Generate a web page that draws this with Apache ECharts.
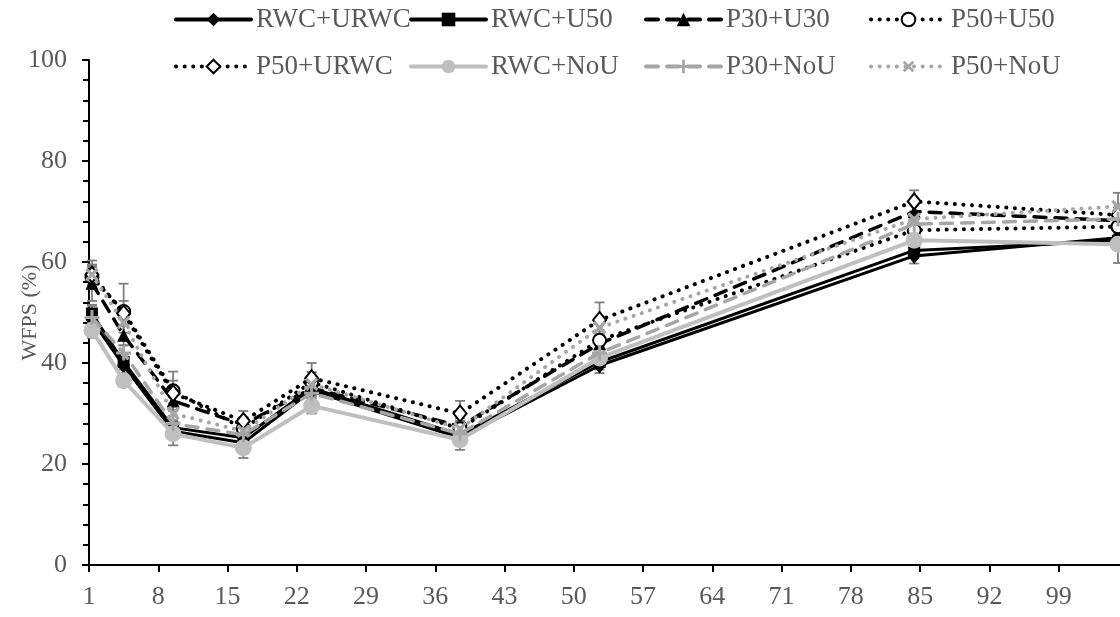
<!DOCTYPE html>
<html>
<head>
<meta charset="utf-8">
<script src="https://cdn.jsdelivr.net/npm/echarts@6/dist/echarts.min.js"></script>
<style>
  html, body { margin: 0; padding: 0; background: #fff; }
  #chart { width: 1120px; height: 617px; }
</style>
</head>
<body>
<div id="chart"></div>
<script>
// Sampling days after the start of the trial
const days = [1.3, 4.5, 9.5, 16.6, 23.5, 38.5, 52.6, 84.4, 105];

// WFPS (%) per treatment
const rwcUrwc  = [48.5, 39.5, 26.5, 24.2, 34.5, 25.2, 39.5, 61.2, 64.8];
const rwcU50   = [49.8, 40.2, 27.2, 25.2, 35.0, 25.8, 40.2, 62.3, 64.2];
const p30U30   = [55.8, 45.5, 32.5, 27.8, 35.0, 27.5, 43.8, 70.0, 68.2];
const p50U50   = [57.0, 50.2, 34.5, 27.0, 36.2, 27.0, 44.5, 66.3, 67.0];
const p50Urwc  = [57.5, 49.8, 34.0, 28.5, 37.0, 30.0, 48.5, 72.0, 69.3];
const rwcNoU   = [46.5, 36.5, 26.0, 23.2, 31.5, 24.8, 41.0, 64.3, 63.5];
const p30NoU   = [49.0, 42.0, 28.0, 25.8, 34.0, 26.0, 42.0, 67.5, 68.5];
const p50NoU   = [57.5, 48.0, 30.0, 26.5, 35.8, 27.0, 47.0, 68.5, 71.0];

// Standard errors per treatment
const errRwcUrwc = [1.5, 1.5, 1.5, 1.5, 1.5, 1.5, 1.5, 1.5, 1.5];
const errRwcU50  = [1.5, 1.5, 1.5, 1.2, 1.5, 1.2, 1.5, 1.5, 1.5];
const errP30U30  = [3.5, 2.0, 2.0, 1.5, 1.5, 1.5, 2.0, 1.5, 1.5];
const errP50U50  = [2.0, 5.5, 3.8, 1.5, 2.0, 1.5, 2.0, 1.5, 1.5];
const errP50Urwc = [2.0, 2.5, 2.5, 2.0, 3.0, 2.5, 3.5, 2.2, 1.5];
const errRwcNoU  = [1.5, 1.2, 2.3, 2.0, 1.5, 2.0, 1.5, 1.5, 3.7];
const errP30NoU  = [2.5, 1.5, 1.5, 1.5, 1.5, 1.5, 1.5, 1.5, 1.5];
const errP50NoU  = [2.8, 2.0, 2.0, 1.5, 1.5, 1.5, 2.0, 1.5, 2.7];

const names = ['RWC+URWC', 'RWC+U50', 'P30+U30', 'P50+U50',
               'P50+URWC', 'RWC+NoU', 'P30+NoU', 'P50+NoU'];

// Day 1 is the first tick; the axis runs on (day - 1) so ticks fall every 7 days
const DAY0 = 1;

const FONT = '"Liberation Serif", "Times New Roman", serif';
const TXT = '#595959';
const BLACK = '#000000';
const GRAY1 = '#bfbfbf';
const GRAY2 = '#a6a6a6';

const plusPath = 'path://M4,0H6V4H10V6H6V10H4V6H0V4H4Z';

const dotted = [0.1, 8.5];
const dashed = [12, 9];

const styles = [
  { color: BLACK, width: 3, type: 'solid', symbol: 'diamond', size: [13, 16] },
  { color: BLACK, width: 3, type: 'solid', symbol: 'rect', size: 12 },
  { color: BLACK, width: 3.5, type: dashed, symbol: 'triangle', size: 13 },
  { color: BLACK, width: 4, type: dotted, symbol: 'emptyCircle', size: 13, border: 2.2 },
  { color: BLACK, width: 4, type: dotted, symbol: 'emptyDiamond', size: [13, 16], border: 2.5 },
  { color: GRAY1, width: 4, type: 'solid', symbol: 'circle', size: 17 },
  { color: GRAY2, width: 3.5, type: dashed, symbol: plusPath, size: 15 },
  { color: GRAY2, width: 4, type: dotted, symbol: plusPath, size: 16, rotate: 45 }
];

const values = [rwcUrwc, rwcU50, p30U30, p50U50, p50Urwc, rwcNoU, p30NoU, p50NoU];
const errors = [errRwcUrwc, errRwcU50, errP30U30, errP50U50, errP50Urwc, errRwcNoU, errP30NoU, errP50NoU];

function pts(arr) {
  return days.map((d, i) => [d - DAY0, arr[i]]);
}

const series = [];

// Error bars under the lines
values.forEach((arr, k) => {
  series.push({
    type: 'custom',
    name: names[k] + ' SE',
    z: 1,
    silent: true,
    data: days.map((d, i) => [d - DAY0, arr[i], errors[k][i]]),
    renderItem: function (params, api) {
      const x = api.value(0), y = api.value(1), e = api.value(2);
      const top = api.coord([x, y + e]);
      const bot = api.coord([x, y - e]);
      const cap = 5;
      const st = { stroke: '#7f7f7f', lineWidth: 1.8 };
      return {
        type: 'group',
        children: [
          { type: 'line', shape: { x1: top[0], y1: top[1], x2: bot[0], y2: bot[1] }, style: st },
          { type: 'line', shape: { x1: top[0] - cap, y1: top[1], x2: top[0] + cap, y2: top[1] }, style: st },
          { type: 'line', shape: { x1: bot[0] - cap, y1: bot[1], x2: bot[0] + cap, y2: bot[1] }, style: st }
        ]
      };
    }
  });
});

values.forEach((arr, k) => {
  const s = styles[k];
  series.push({
    type: 'line',
    name: names[k],
    z: 2 + k,
    data: pts(arr),
    symbol: s.symbol,
    symbolSize: s.size,
    symbolRotate: s.rotate || 0,
    showAllSymbol: true,
    lineStyle: { color: s.color, width: s.width, type: s.type, cap: 'round' },
    itemStyle: {
      color: s.color,
      borderColor: s.color,
      borderWidth: s.border || 0
    },
    emphasis: { disabled: true }
  });
});

function legendCol(left, items) {
  return {
    orient: 'vertical',
    left: left,
    top: 1,
    itemWidth: 75,
    itemHeight: 17,
    itemGap: 20,
    data: items,
    lineStyle: { width: 4 },
    textStyle: { fontFamily: FONT, fontSize: 27, color: TXT },
    selectedMode: false
  };
}

const option = {
  animation: false,
  backgroundColor: '#fff',
  legend: [
    legendCol(169, [names[0], names[4]]),
    legendCol(404, [names[1], names[5]]),
    legendCol(639, [names[2], names[6]]),
    legendCol(864, [names[3], names[7]])
  ],
  grid: { left: 89, right: 0, top: 60, bottom: 52, containLabel: false, outerBoundsMode: 'none' },
  xAxis: {
    type: 'value',
    min: 0,
    max: 104.2,
    interval: 7,
    axisLine: { lineStyle: { color: BLACK, width: 2 } },
    axisTick: { show: true, inside: false, length: 7, lineStyle: { color: BLACK, width: 2 } },
    splitLine: { show: false },
    axisLabel: {
      margin: 19,
      fontFamily: FONT,
      fontSize: 26,
      color: TXT,
      showMaxLabel: false,
      formatter: v => String(Math.round(v + DAY0))
    }
  },
  yAxis: {
    type: 'value',
    min: 0,
    max: 100,
    interval: 20,
    name: 'WFPS (%)',
    nameLocation: 'middle',
    nameGap: 48,
    nameMoveOverlap: false,
    nameTextStyle: { fontFamily: FONT, fontSize: 22, color: TXT },
    axisLine: { show: true, lineStyle: { color: BLACK, width: 2 } },
    axisTick: { show: true, inside: false, length: 7, lineStyle: { color: BLACK, width: 2 } },
    minorTick: { show: true, splitNumber: 5, length: 6, lineStyle: { color: BLACK, width: 2 } },
    splitLine: { show: false },
    axisLabel: { margin: 22, fontFamily: FONT, fontSize: 26, color: TXT }
  },
  series: series
};

const chart = echarts.init(document.getElementById('chart'), null, { renderer: 'canvas' });
chart.setOption(option);
</script>
</body>
</html>
